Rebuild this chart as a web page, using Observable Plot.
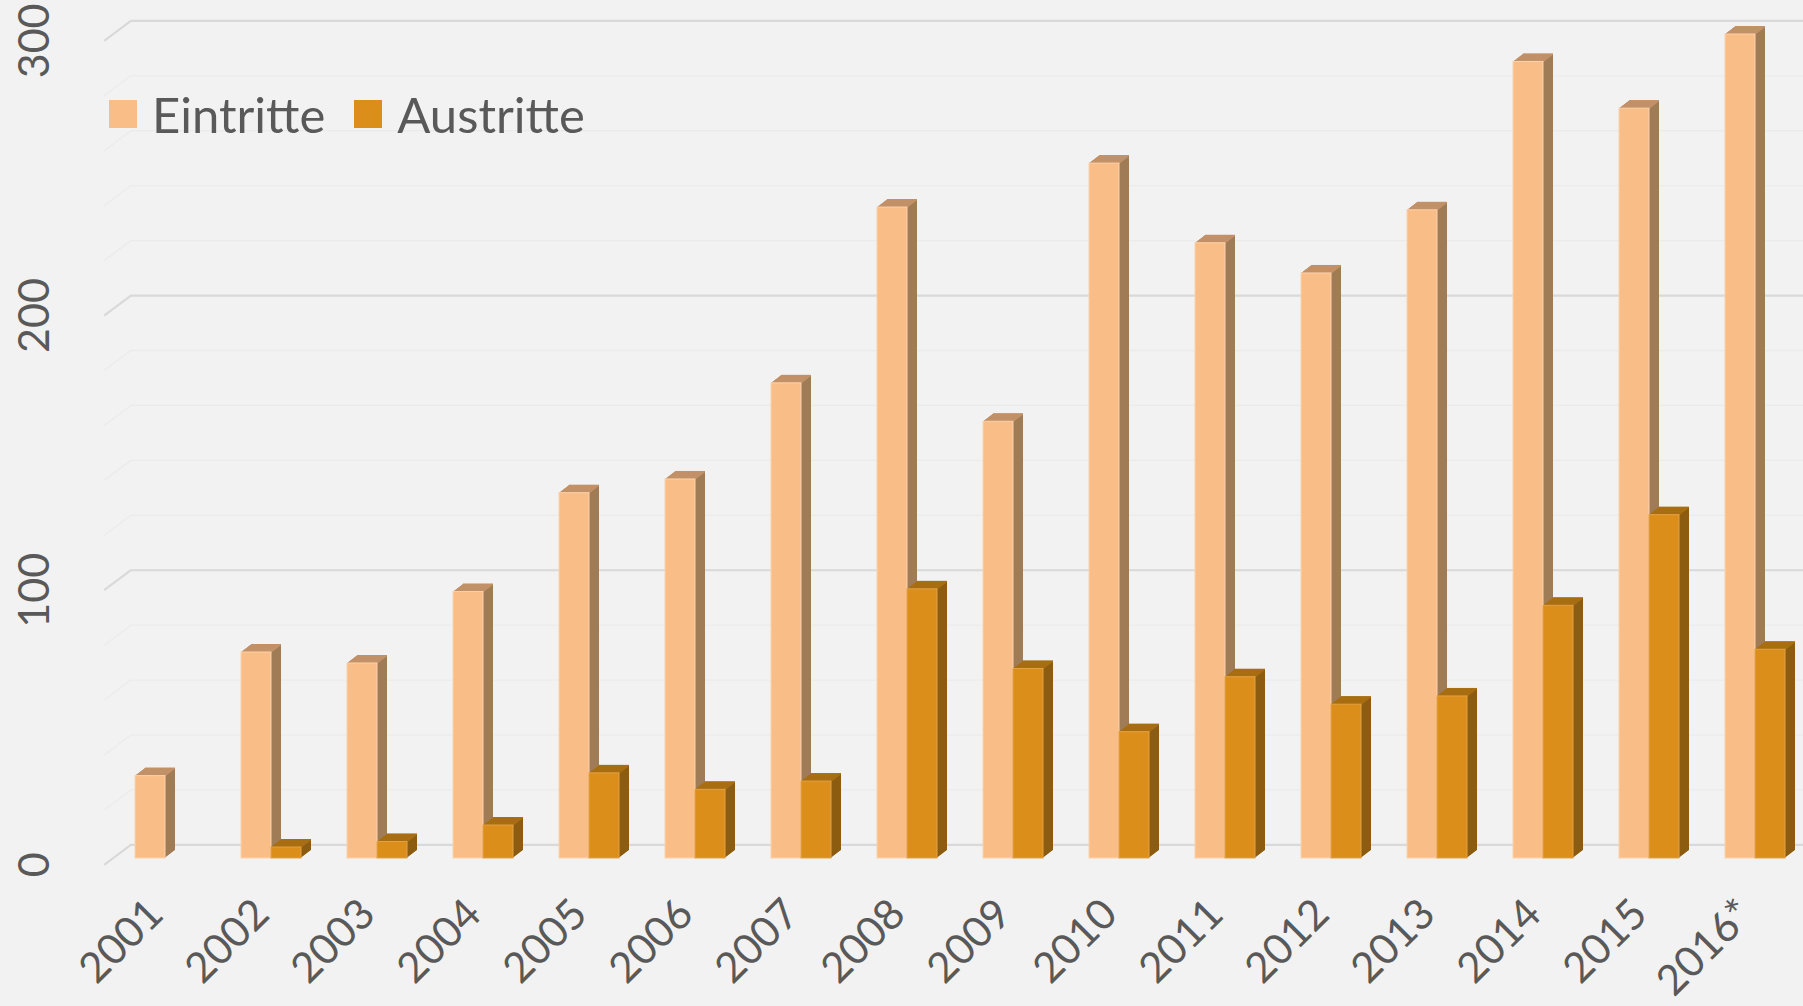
<!DOCTYPE html>
<html><head><meta charset="utf-8">
<script src="https://cdn.jsdelivr.net/npm/d3@7"></script>
<script src="https://cdn.jsdelivr.net/npm/@observablehq/plot@0.6"></script>
<style>
html,body{margin:0;padding:0;background:#f2f2f2;}
#wrap{position:relative;width:1803px;height:1006px;overflow:hidden;font-family:Lato,sans-serif;color:#595959;}
#legend{position:absolute;left:109px;top:86px;display:flex;align-items:center;font-size:49px;line-height:56px;}
.item{display:flex;align-items:center;margin-right:29px}
.sw{width:28px;height:28px;margin-right:15px}
</style></head><body>
<div id="wrap"><div id="chart"></div><div id="legend"></div></div>
<script>
// ---- data ----
const years = ["2001","2002","2003","2004","2005","2006","2007","2008","2009","2010","2011","2012","2013","2014","2015","2016*"];
const eintritte = [30, 75, 71, 97, 133, 138, 173, 237, 159, 253, 224, 213, 236, 290, 273, 300];
const austritte = [0, 4, 6, 12, 31, 25, 28, 98, 69, 46, 66, 56, 59, 92, 125, 76];
const seriesNames = ["Eintritte", "Austritte"];
const yTicks = [0, 100, 200, 300];
const yMinorTicks = [20, 40, 60, 80, 120, 140, 160, 180, 220, 240, 260, 280];

// ---- styles ----
const faces = {
  Eintritte: {front: "#F9BE87", side: "#A07C56", top: "#C29168", edge: "#FBD2AC"},
  Austritte: {front: "#DB8E1A", side: "#8C5C10", top: "#A86E12", edge: "#E3A247"}
};
const depthSteps = d3.range(1, 11);      // 3D extrusion copies
const depthDx = 1, depthDy = -0.77;
const wallDy = -13.6;                     // back wall offset

const rowsE = years.map((year, i) => ({year, value: eintritte[i]}));
const rowsA = years.map((year, i) => ({year, value: austritte[i]})).filter(d => d.value > 0);

// diagonal piece of the side wall grid lines
const diag = {draw(ctx) { ctx.moveTo(-13.4, 10); ctx.lineTo(13.4, -10); }};

function barMarks(rows, name, insetLeft, insetRight) {
  const f = faces[name];
  const marks = [];
  for (const i of depthSteps) {
    marks.push(Plot.barY(rows, {x: "year", y: "value", fill: f.side, insetLeft, insetRight, dx: i * depthDx, dy: i * depthDy}));
  }
  for (const i of [0, ...depthSteps]) {
    marks.push(Plot.tickY(rows, {x: "year", y: "value", stroke: f.top, strokeWidth: 1.6, insetLeft, insetRight, dx: i * depthDx, dy: i * depthDy}));
  }
  marks.push(Plot.barY(rows, {x: "year", y: "value", fill: f.front, stroke: f.edge, strokeWidth: 1, insetLeft, insetRight}));
  return marks;
}

const chart = Plot.plot({
  width: 1803,
  height: 1006,
  marginLeft: 112,
  marginRight: 0,
  marginTop: 34,
  marginBottom: 148,
  style: {background: "transparent", fontFamily: "Lato, sans-serif", color: "#595959"},
  x: {type: "band", domain: years, range: [112, 1808], padding: 0},
  y: {domain: [0, 300]},
  marks: [
    Plot.ruleY(yMinorTicks, {dy: wallDy, insetLeft: 18, stroke: "#ebebeb", strokeWidth: 1.3}),
    Plot.dot(yMinorTicks, {y: d => d, frameAnchor: "left", symbol: diag, fill: "none", stroke: "#ebebeb", strokeWidth: 1.3, dx: 5, dy: -3.6}),
    Plot.ruleY(yTicks, {dy: wallDy, insetLeft: 18, stroke: "#d9d9d9", strokeWidth: 2.2}),
    Plot.dot(yTicks, {y: d => d, frameAnchor: "left", symbol: diag, fill: "none", stroke: "#d9d9d9", strokeWidth: 2.2, dx: 5, dy: -3.6}),
    ...barMarks(rowsE, "Eintritte", 23, 53),
    ...barMarks(rowsA, "Austritte", 53, 23),
    Plot.axisY({ticks: yTicks, tickSize: 0, tickPadding: 77, tickRotate: -90, textAnchor: "middle", lineAnchor: "middle", dy: 6.4, fontSize: 43, label: null}),
    Plot.axisX({tickSize: 0, tickPadding: 58, tickRotate: -45, textAnchor: "end", lineAnchor: "bottom", fontSize: 42, label: null})
  ]
});
document.getElementById("chart").append(chart);

// legend
const legend = document.getElementById("legend");
for (const name of seriesNames) {
  const item = document.createElement("div");
  item.className = "item";
  const sw = document.createElement("div");
  sw.className = "sw";
  sw.style.background = faces[name].front;
  const label = document.createElement("span");
  label.textContent = name;
  item.append(sw, label);
  legend.append(item);
}
</script>
</body></html>
